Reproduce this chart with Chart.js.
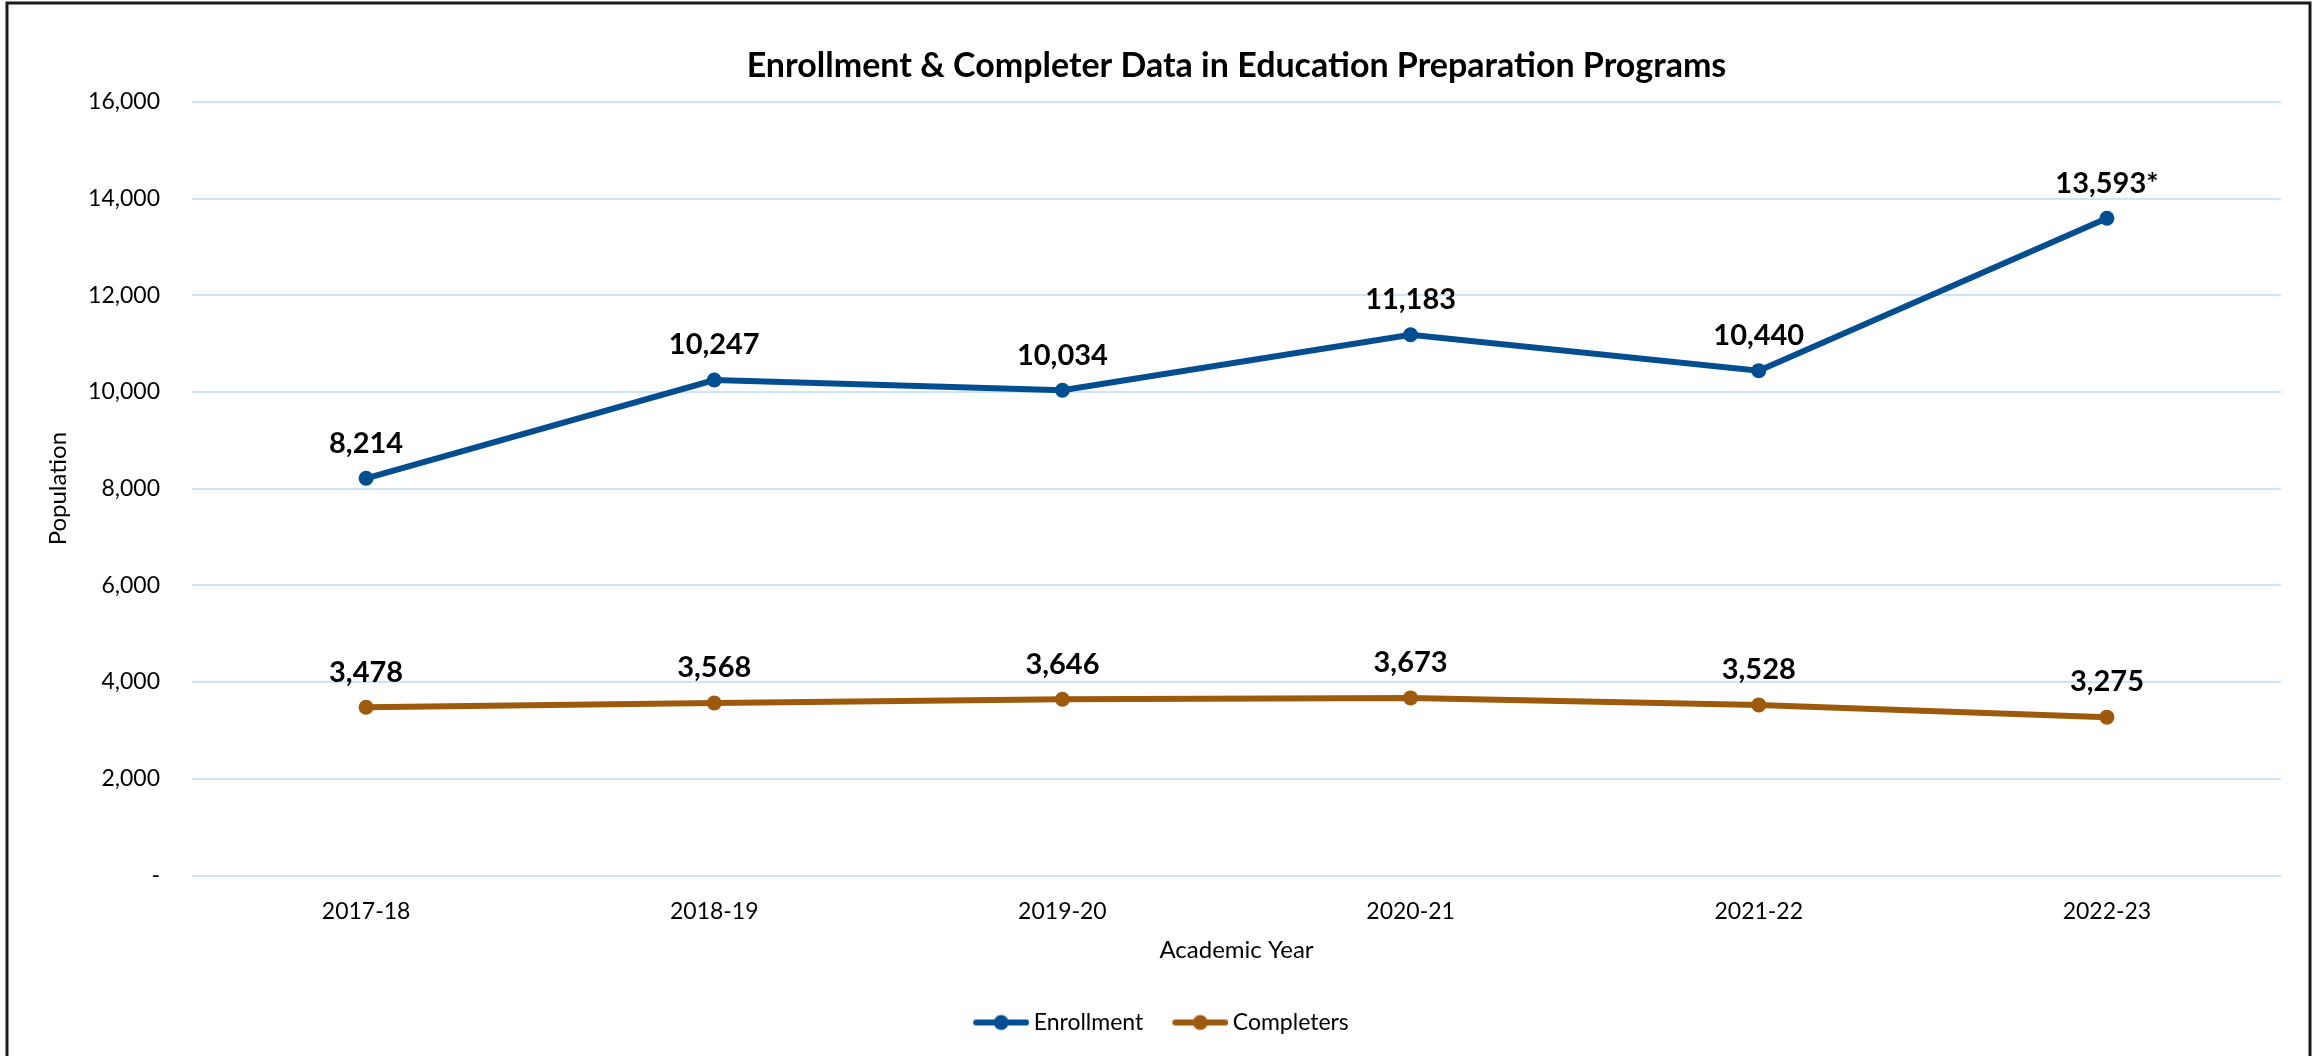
<!DOCTYPE html>
<html>
<head>
<meta charset="utf-8">
<title>Enrollment & Completer Data in Education Preparation Programs</title>
<script src="https://cdn.jsdelivr.net/npm/chart.js@4/dist/chart.umd.min.js"></script>
<style>
  html, body { margin: 0; padding: 0; background: #ffffff; }
  #wrap { position: relative; width: 2321px; height: 1056px; }
</style>
</head>
<body>
<div id="wrap"><canvas id="chart"></canvas></div>
<script>
// Academic years and head counts
const academicYears = ['2017-18', '2018-19', '2019-20', '2020-21', '2021-22', '2022-23'];
const enrollment = [8214, 10247, 10034, 11183, 10440, 13593];
const completers = [3478, 3568, 3646, 3673, 3528, 3275];
// footnote marks appended to individual value labels
const enrollmentNotes = ['', '', '', '', '', '*'];
const completerNotes = ['', '', '', '', '', ''];
const yTicks = [0, 2000, 4000, 6000, 8000, 10000, 12000, 14000, 16000];

const BLUE = '#034E91';
const BROWN = '#9E5A0C';
const FONT = 'Lato, Carlito, "Open Sans", sans-serif';

// legend swatch: thick line with a round marker
function legendSwatch(color) {
  const c = document.createElement('canvas');
  c.width = 70; c.height = 18;
  const g = c.getContext('2d');
  g.strokeStyle = color; g.lineWidth = 6; g.lineCap = 'round';
  g.beginPath(); g.moveTo(17, 9); g.lineTo(67, 9); g.stroke();
  g.fillStyle = color;
  g.beginPath(); g.arc(42, 9, 7.5, 0, Math.PI * 2); g.fill();
  return c;
}

const fmt = v => v.toLocaleString('en-US');

// value labels drawn above each point
const valueLabels = {
  id: 'valueLabels',
  afterDatasetsDraw(chart) {
    const ctx = chart.ctx;
    ctx.save();
    ctx.font = 'bold 29px ' + FONT;
    ctx.fillStyle = '#000';
    ctx.textAlign = 'center';
    ctx.textBaseline = 'middle';
    chart.data.datasets.forEach((ds, di) => {
      const meta = chart.getDatasetMeta(di);
      meta.data.forEach((pt, i) => {
        ctx.fillText(fmt(ds.data[i]) + (ds.notes[i] || ''), pt.x, pt.y - 35);
      });
    });
    ctx.restore();
  }
};

// outer frame
const frame = {
  id: 'frame',
  afterDraw(chart) {
    const ctx = chart.ctx;
    ctx.save();
    ctx.strokeStyle = '#1a1a1a';
    ctx.lineWidth = 3;
    ctx.strokeRect(7, 3, 2303, 1200);
    ctx.restore();
  }
};

new Chart(document.getElementById('chart'), {
  type: 'line',
  data: {
    labels: academicYears,
    datasets: [
      {
        label: 'Enrollment', data: enrollment, notes: enrollmentNotes,
        borderColor: BLUE, backgroundColor: BLUE, borderWidth: 6,
        pointRadius: 7.5, pointHoverRadius: 7.5, pointBackgroundColor: BLUE, pointBorderWidth: 0,
        pointStyle: 'circle', tension: 0,
        legendSwatch: legendSwatch(BLUE)
      },
      {
        label: 'Completers', data: completers, notes: completerNotes,
        borderColor: BROWN, backgroundColor: BROWN, borderWidth: 6,
        pointRadius: 7.5, pointHoverRadius: 7.5, pointBackgroundColor: BROWN, pointBorderWidth: 0,
        pointStyle: 'circle', tension: 0,
        legendSwatch: legendSwatch(BROWN)
      }
    ]
  },
  options: {
    responsive: true,
    maintainAspectRatio: false,
    animation: false,
    layout: { padding: { top: 20, right: 40, bottom: 12, left: 34 } },
    plugins: {
      tooltip: { enabled: false },
      title: {
        display: true,
        fullSize: false,
        text: 'Enrollment & Completer Data in Education Preparation Programs',
        color: '#000',
        font: { family: FONT, size: 34, weight: 'bold' },
        padding: { top: 26, bottom: 15 }
      },
      legend: {
        position: 'bottom',
        labels: {
          color: '#000',
          font: { family: FONT, size: 23 },
          usePointStyle: true,
          pointStyleWidth: 56,
          padding: 22,
          generateLabels(chart) {
            return chart.data.datasets.map((ds, i) => ({
              text: ds.label,
              pointStyle: ds.legendSwatch,
              fillStyle: ds.borderColor,
              strokeStyle: ds.borderColor,
              lineWidth: 0,
              hidden: false,
              datasetIndex: i,
              fontColor: '#000'
            }));
          }
        }
      }
    },
    scales: {
      x: {
        offset: true,
        grid: { display: false, drawTicks: false },
        border: { display: false },
        ticks: { color: '#000', font: { family: FONT, size: 23 }, padding: 22, maxRotation: 0 },
        title: {
          display: true, text: 'Academic Year', color: '#000',
          font: { family: FONT, size: 24 }, padding: { top: 0, bottom: 24 }
        },
        afterFit(scale) { scale.height = 113.5; }
      },
      y: {
        min: 0, max: 16000,
        afterBuildTicks(scale) { scale.ticks = yTicks.map(v => ({ value: v })); },
        grid: { color: '#CCE5FA', lineWidth: 2, drawTicks: false },
        border: { display: false },
        ticks: {
          color: '#000', font: { family: FONT, size: 23 }, padding: 32,
          callback: v => (v === 0 ? '-' : fmt(v))
        },
        title: {
          display: true, text: 'Population', color: '#000',
          font: { family: FONT, size: 24 }, padding: { top: 10, bottom: 0 }
        },
        afterFit(scale) { scale.width = 158; }
      }
    }
  },
  plugins: [valueLabels, frame]
});
</script>
</body>
</html>
